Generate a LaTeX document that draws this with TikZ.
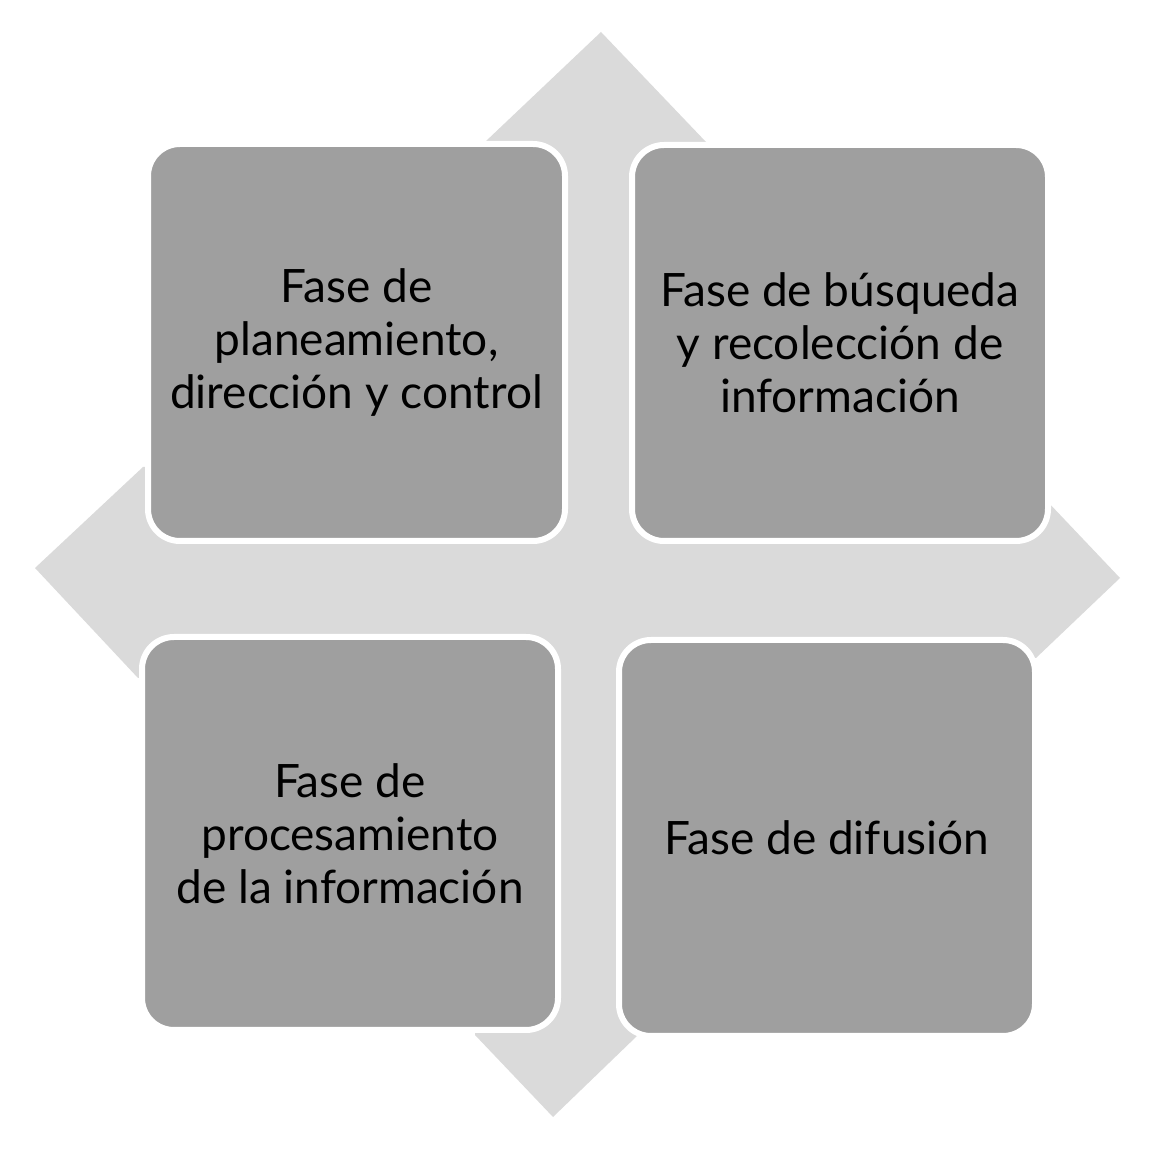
\documentclass[tikz,border=0pt]{standalone}
\usepackage{fontspec}
\setmainfont{Lato}
\definecolor{arrowgray}{HTML}{DADADA}
\definecolor{boxgray}{HTML}{9F9F9F}
\tikzset{
  phase/.style={rounded corners=16pt, fill=boxgray, draw=white, line width=3pt,
    align=center, text=black, inner sep=0pt,
    font=\fontsize{23}{26.5}\selectfont},
  arrowfill/.style={fill=arrowgray, draw=none}
}
\begin{document}
\begin{tikzpicture}[x=0.5pt,y=-0.5pt]
\useasboundingbox (0,0) rectangle (1158,1154);
% quad arrow background
\fill[arrowfill] (601,32) -- (706,142) -- (700,152) -- (490,152) -- (485,142) -- cycle;
\fill[arrowfill] (35,568) -- (143,467) -- (155,467) -- (155,678) -- (138,678) -- cycle;
\fill[arrowfill] (1120,578) -- (1046,500) -- (1020,500) -- (1020,658) -- (1036,658) -- cycle;
\fill[arrowfill] (553,1117) -- (475,1035) -- (475,1025) -- (637,1025) -- (637,1036) -- cycle;
\fill[arrowfill] (545,142) rectangle (640,1036);
\fill[arrowfill] (143,520) rectangle (1036,658);
% boxes
\node[phase, minimum width=208.5pt, minimum height=198.5pt] (tl) at (356.5,342.5)
  {Fase de\\planeamiento,\\dirección y control};
\node[phase, minimum width=208pt, minimum height=198pt] (tr) at (840,343)
  {Fase de búsqueda\\y recolección de\\información};
\node[phase, minimum width=208pt, minimum height=196.5pt] (bl) at (350,833.5)
  {Fase de\\procesamiento\\de la información};
\node[phase, minimum width=208pt, minimum height=198pt] (br) at (827,838)
  {Fase de difusión};
\end{tikzpicture}
\end{document}
